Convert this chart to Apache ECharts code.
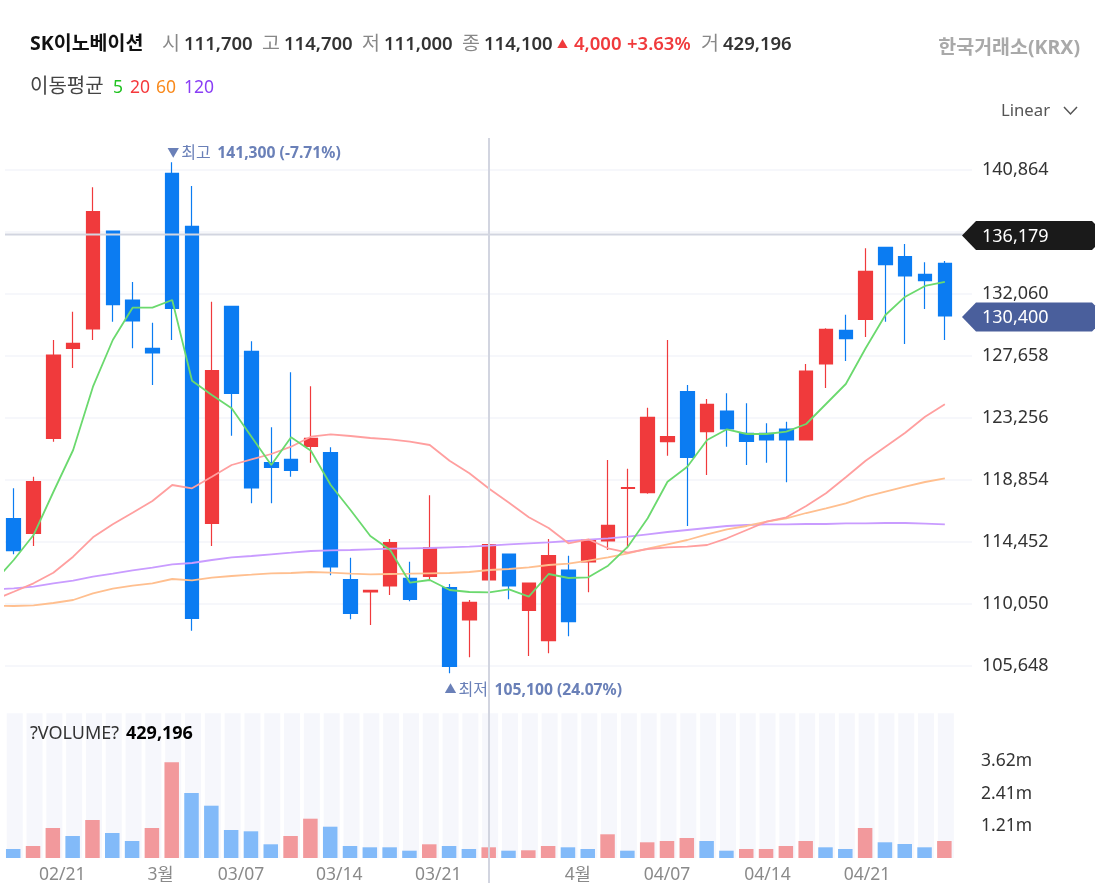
<!DOCTYPE html>
<html><head><meta charset="utf-8">
<style>html,body{margin:0;padding:0;background:#fff}#c{width:1099px;height:883px}</style>
<script src="https://cdn.jsdelivr.net/npm/echarts@6/dist/echarts.min.js"></script>
</head><body><div id="c"></div>
<script>
const dates=['02/18','02/19','02/20','02/21','02/24','02/25','02/26','02/27','02/28','03/04','03/05','03/06','03/07','03/10','03/11','03/12','03/13','03/14','03/17','03/18','03/19','03/20','03/21','03/24','03/25','03/26','03/27','03/28','03/31','04/01','04/02','04/03','04/04','04/07','04/08','04/09','04/10','04/11','04/14','04/15','04/16','04/17','04/18','04/21','04/22','04/23','04/24','04/25'];
const open=[116106,115071,121807,128187,129556,136504,131612,128187,140595,136837,115780,131165,127975,120077,120318,121239,120786,111781,110909,111335,111881,112022,111214,108924,111760,113603,109612,107456,112469,113036,114525,118247,117950,121565,125110,122274,123742,122161,122161,122466,121686,127074,129464,130244,135348,134682,133434,134214];
const close=[113837,118729,127712,128542,137872,131279,130123,127854,131024,109045,126599,124997,118283,119750,119538,121807,112682,109399,111030,114405,110392,114050,105641,110179,114263,111335,111547,113483,108803,114596,115638,118304,123295,121920,120459,124217,122466,121594,121686,121686,126578,129535,128868,133647,134115,133314,132980,130478];
const low=[113582,114171,121565,126791,128776,130073,128187,125585,128776,108165,114171,121991,117198,117198,119084,120077,112093,108974,108569,110696,110250,111689,105145,106279,111760,110392,106372,106563,107768,110888,113887,114008,117879,120573,115589,119204,121211,119913,120077,118687,121686,125373,127287,128989,130073,128492,130974,128776];
const high=[118262,119084,128776,130782,139602,136504,132888,130003,141375,139695,131491,131165,128684,122586,126486,125493,121168,113341,111030,114667,113057,117765,111476,110342,114263,113603,111547,114667,113483,114596,120268,119651,123976,128776,125585,124593,124997,124288,122870,122983,127074,129606,130570,135278,135348,135582,134285,134377];
const ma5=[111618,113178,114950,117999,120977,125465,128776,131066,131066,131612,125890,124876,123934,121920,119913,121877,120927,118495,116723,114880,113887,111569,111760,111051,110909,110888,111101,110576,112185,111902,111951,112774,114121,116135,118729,119793,121686,122445,122111,122111,122274,122820,124238,125656,128188,130548,131846,132605,132888];
const ma20=[110342,110930,111526,112278,113412,114787,115709,116532,117361,118495,118262,119084,119913,120318,120693,121211,121920,122090,121970,121828,121736,121565,121331,120218,119325,118233,117241,116205,115447,114362,114646,114008,113696,113958,114078,114121,114241,114717,115305,115893,116205,117007,117907,119041,120218,121211,122204,123338,124217];
const ma60=[109938,109917,109966,110129,110342,110817,111143,111356,111526,111831,111739,111923,112044,112136,112235,112256,112327,112278,112207,112164,112185,112207,112235,112256,112327,112469,112540,112660,112823,112916,113128,113369,113653,113979,114291,114596,115000,115355,115589,115893,116135,116510,116844,117198,117666,118020,118375,118708,118971];
const ma120=[111086,111172,111285,111526,111710,111994,112207,112448,112632,112873,112965,113178,113369,113462,113582,113696,113816,113866,113887,113937,113979,114008,114029,114078,114121,114192,114291,114362,114433,114525,114617,114717,114830,115000,115163,115305,115447,115589,115660,115709,115709,115730,115730,115780,115780,115801,115801,115752,115709];
const volumeK=[338,450,1125,825,1425,938,638,1125,3589,2438,1961,1050,1001,514,825,1474,1174,450,401,401,274,514,450,338,401,274,289,450,401,338,889,274,589,638,750,638,274,338,338,450,638,401,338,1125,589,525,401,638];
const volumeUp=[0,1,1,0,1,0,0,1,1,0,0,0,0,0,1,1,0,0,0,0,0,1,0,0,1,0,1,1,0,0,1,0,1,1,1,0,0,1,1,1,1,0,0,1,0,0,0,1];
const xTickAt=[2.47,7.44,11.5,16.46,21.45,28.5,33,38.07,43.1];
const xTickText=['02/21','3월','03/07','03/14','03/21','4월','04/07','04/14','04/21'];
const priceStep=4402, priceMin=101246, priceMax=145266;
const volTickAt=[1210,2410,3620], volMax=5426;
const crossPrice=136179, lastPrice=130400;

const F='"Noto Sans","Noto Sans CJK KR",sans-serif';
const RED='#f03a3c',BLUE='#0b7cf2';
const xMin=-0.44,xMax=48.37;
const idx=dates.map((_,i)=>i);
const lineData=a=>a.map((v,i)=>[i-1,v]);
const maLine=(name,a,c)=>({name,type:'line',xAxisIndex:0,yAxisIndex:0,data:lineData(a),showSymbol:false,symbol:'none',smooth:false,silent:true,z:5,lineStyle:{color:c,width:1.8},animation:false});

const chart=echarts.init(document.getElementById('c'));
const opt={
 animation:false,backgroundColor:'#fff',
 grid:[
  {left:5,right:127,top:107.4,height:620.9,outerBoundsMode:'none'},
  {left:4.5,right:127.5,top:713.3,height:144.7,outerBoundsMode:'none'},
  {left:6,right:126,top:713.3,height:144.7,outerBoundsMode:'none'}
 ],
 xAxis:[
  {type:'value',gridIndex:0,min:xMin,max:xMax,show:false},
  {type:'value',gridIndex:1,min:xMin,max:xMax,axisLine:{show:false},axisTick:{show:false},splitLine:{show:false},
   axisLabel:{customValues:xTickAt,margin:8,fontFamily:F,fontSize:17.5,color:'#8a8a8a',formatter:v=>{const k=xTickAt.indexOf(v);return k<0?'':xTickText[k];}}},
  {type:'value',gridIndex:2,min:xMin,max:xMax,show:false}
 ],
 yAxis:[
  {type:'value',gridIndex:0,position:'right',min:priceMin,max:priceMax,interval:priceStep,axisLine:{show:false},axisTick:{show:false},
   splitLine:{show:true,showMinLine:false,showMaxLine:false,lineStyle:{color:'#f6f7fb',width:2}},
   axisLabel:{margin:10,fontFamily:F,fontSize:18,color:'#333',padding:[2,0,0,0],showMinLabel:false,showMaxLabel:false,formatter:v=>Math.round(v).toLocaleString('en-US')}},
  {type:'value',gridIndex:1,position:'right',min:0,max:volMax,axisLine:{show:false},axisTick:{show:false},splitLine:{show:false},
   axisLabel:{customValues:volTickAt,margin:9.5,fontFamily:F,fontSize:17.5,color:'#333',padding:[2,0,0,0],formatter:v=>(v/1000).toFixed(2)+'m'}},
  {type:'value',gridIndex:2,min:0,max:volMax,show:false}
 ],
 series:[
  {name:'volumeBand',type:'bar',xAxisIndex:2,yAxisIndex:2,data:idx.map(i=>[i,volMax]),barWidth:16,silent:true,z:1,itemStyle:{color:'#f6f7fc'}},
  {name:'volume',type:'bar',xAxisIndex:1,yAxisIndex:1,data:volumeK.map((v,i)=>({value:[i,v],itemStyle:{color:volumeUp[i]?'#f2999c':'#82baf9'}})),barWidth:14.5,z:2},
  {name:'SK이노베이션',type:'candlestick',xAxisIndex:0,yAxisIndex:0,barWidth:14,z:3,
   data:idx.map(i=>[i,open[i],close[i],low[i],high[i]]),
   itemStyle:{color:RED,color0:BLUE,borderColor:RED,borderColor0:BLUE,borderWidth:1.2}},
  maLine('MA120',ma120,'#c99cff'),
  maLine('MA60',ma60,'#ffbf8f'),
  maLine('MA20',ma20,'#ff9f9f'),
  maLine('MA5',ma5,'#6bd96e')
 ]
};
chart.setOption(opt);

const py=v=>chart.convertToPixel({yAxisIndex:0},v);
const pt=(i,v)=>chart.convertToPixel({gridIndex:0},[i,v]);
const T=(x,y,text,o={})=>({type:'text',z:50,silent:true,x,y,style:Object.assign({text,fill:'#333',font:`${o.w||400} ${o.s||18.5}px ${F}`,textVerticalAlign:'middle',textAlign:o.a||'left'},o.fill?{fill:o.fill}:{})});
const crossY=py(crossPrice),lastY=py(lastPrice);
const hi=pt(8,high[8]),lo=pt(22,low[22]);
const tag=(y,c,label)=>[
 {type:'polygon',z:49,silent:true,shape:{points:[[962,y],[976,y-14.5],[1092,y-14.5],[1095,y-11.5],[1095,y+11.5],[1092,y+14.5],[976,y+14.5]]},style:{fill:c}},
 T(982,y+1,label,{fill:'#fff',s:18})
];
const ANN='#6a80b8';
const H=45;
const g=[
 {type:'line',z:40,silent:true,shape:{x1:5,y1:crossY-1,x2:965,y2:crossY-1},style:{stroke:'#d2d5e0',lineWidth:2}},
 {type:'line',z:40,silent:true,shape:{x1:489,y1:138,x2:489,y2:883},style:{stroke:'#d2d5e0',lineWidth:2}},
 ...tag(lastY,'#4a5f9c',lastPrice.toLocaleString('en-US')),
 ...tag(crossY,'#1a1a1a',crossPrice.toLocaleString('en-US')),
 T(hi[0]-5,hi[1]-9,'▼',{fill:ANN,s:12}),T(hi[0]+9,hi[1]-9,'최고',{fill:ANN,s:16}),T(hi[0]+45,hi[1]-9,'141,300 (-7.71%)',{fill:ANN,s:15.7,w:700}),
 T(lo[0]-5,lo[1]+17,'▲',{fill:ANN,s:12}),T(lo[0]+9,lo[1]+17,'최저',{fill:ANN,s:16}),T(lo[0]+45,lo[1]+17,'105,100 (24.07%)',{fill:ANN,s:15.7,w:700}),
 T(30,H-1,'SK이노베이션',{w:700,s:19.5,fill:'#111'}),
 T(162,H-1,'시',{fill:'#888',s:19.5}),T(184,H,'111,700',{w:600}),
 T(262,H-1,'고',{fill:'#888',s:19.5}),T(284,H,'114,700',{w:600}),
 T(362,H-1,'저',{fill:'#888',s:19.5}),T(384,H,'111,000',{w:600}),
 T(462,H-1,'종',{fill:'#888',s:19.5}),T(484,H,'114,100',{w:600}),
 T(557,H,'▲',{fill:RED,s:11}),T(574,H,'4,000',{w:600,fill:RED}),T(627,H,'+3.63%',{w:600,fill:RED}),
 T(701,H-1,'거',{fill:'#888',s:19.5}),T(723,H,'429,196',{w:600}),
 T(1080,48,'한국거래소(KRX)',{w:700,s:19.5,fill:'#a9a9a9',a:'right'}),
 T(30,87,'이동평균',{s:20,fill:'#444'}),
 T(113,88,'5',{s:17.5,fill:'#22c322'}),T(130,88,'20',{s:17.5,fill:'#f5393c'}),T(156,88,'60',{s:17.5,fill:'#f98a1d'}),T(184,88,'120',{s:17.5,fill:'#8a3ff5'}),
 T(1001,111,'Linear',{s:16.7,fill:'#555'}),
 {type:'polyline',z:50,silent:true,shape:{points:[[1064,107],[1070.5,114],[1077,107]]},style:{stroke:'#555',lineWidth:1.5,fill:'none'}},
 T(30,734,'?VOLUME?',{s:18,fill:'#333'}),T(126,734,'429,196',{s:18,w:700,fill:'#000'})
];
chart.setOption({graphic:g});
</script></body></html>
